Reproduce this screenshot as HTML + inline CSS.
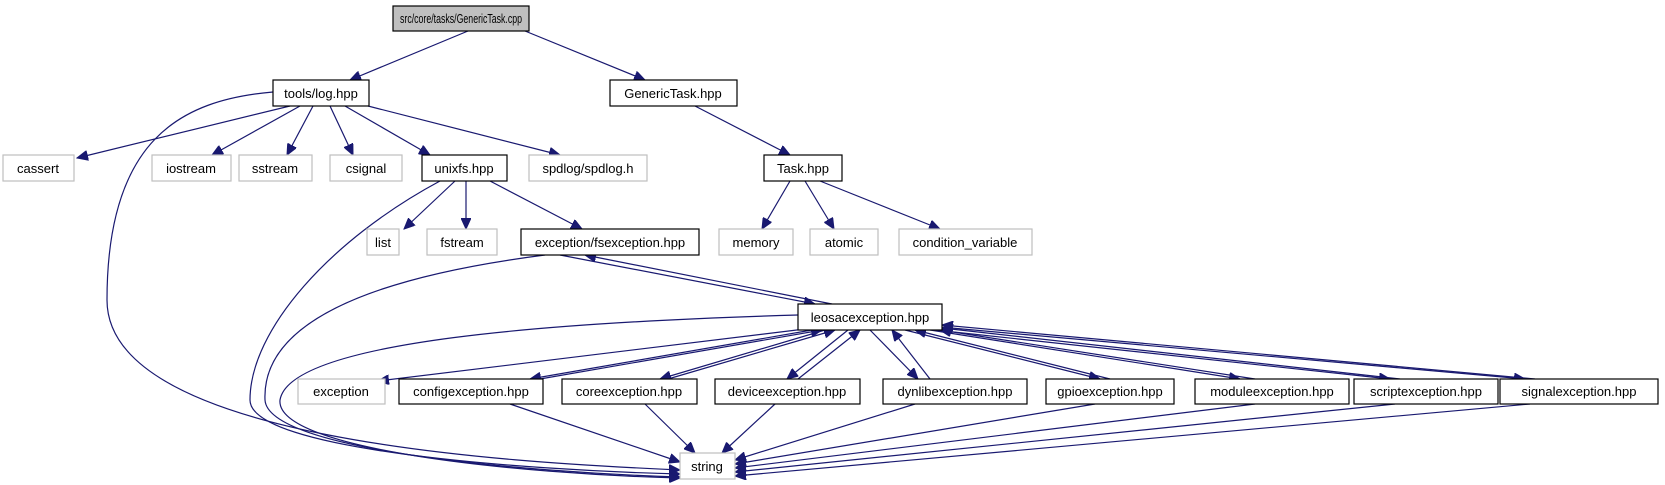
<!DOCTYPE html>
<html><head><meta charset="utf-8"><style>
html,body{margin:0;padding:0;background:#fff;}
svg{display:block;}
text{font-family:"Liberation Sans",Helvetica,sans-serif;font-size:13px;fill:#000;text-anchor:middle;}
.n{fill:#fff;stroke:#000;stroke-width:1.2;}
.g{fill:#fff;stroke:#bfbfbf;stroke-width:1.2;}
.e{fill:none;stroke:#191970;stroke-width:1.2;}
</style></head><body>
<svg width="1665" height="485" viewBox="0 0 1665 485" xmlns="http://www.w3.org/2000/svg">
<defs>
<marker id="a" markerUnits="userSpaceOnUse" markerWidth="12" markerHeight="10" refX="11" refY="5" orient="auto">
<path d="M0,0 L11,5 L0,10 Z" fill="#191970" stroke="#191970"/>
</marker>
</defs>
<g marker-end="url(#a)">
<path class="e" d="M468,31 L350,80"/>
<path class="e" d="M525,31 L645,80"/>
<path class="e" d="M290,106 L77,158"/>
<path class="e" d="M300,106 L212,155"/>
<path class="e" d="M313,106 L287,155"/>
<path class="e" d="M330,106 L353,155"/>
<path class="e" d="M345,106 L430,155"/>
<path class="e" d="M368,106 L560,155"/>
<path class="e" d="M273,92 C180,100 107,140 107,300 C107,440 500,462 680,470"/>
<path class="e" d="M695,106 L790,155"/>
<path class="e" d="M790,181 L762,229"/>
<path class="e" d="M805,181 L834,229"/>
<path class="e" d="M820,181 L940,229"/>
<path class="e" d="M455,181 L404,229"/>
<path class="e" d="M466,181 L466,229"/>
<path class="e" d="M490,181 L582,229"/>
<path class="e" d="M440,181 C330,240 250,330 250,400 C250,450 520,470 680,474"/>
<path class="e" d="M560,255 L815,304"/>
<path class="e" d="M832,304 L585,255"/>
<path class="e" d="M545,255 C350,280 262,330 265,400 C268,450 520,472 680,477"/>
<path class="e" d="M798,315 C560,322 290,340 280,400 C275,450 520,474 680,478"/>
<path class="e" d="M805,329 L378,381"/>
<path class="e" d="M812,330 L530,379"/>
<path class="e" d="M540,379 L822,330"/>
<path class="e" d="M825,330 L660,379"/>
<path class="e" d="M668,379 L835,330"/>
<path class="e" d="M848,330 L787,379"/>
<path class="e" d="M798,379 L860,330"/>
<path class="e" d="M870,330 L918,379"/>
<path class="e" d="M930,379 L892,330"/>
<path class="e" d="M905,330 L1100,379"/>
<path class="e" d="M1110,379 L915,330"/>
<path class="e" d="M930,330 L1240,379"/>
<path class="e" d="M1255,379 L940,330"/>
<path class="e" d="M935,330 L1390,379"/>
<path class="e" d="M1400,379 L942,328"/>
<path class="e" d="M940,327 L1525,379"/>
<path class="e" d="M1535,379 L942,325"/>
<path class="e" d="M510,404 L680,462"/>
<path class="e" d="M645,404 L695,453"/>
<path class="e" d="M775,404 L722,453"/>
<path class="e" d="M915,404 L735,460"/>
<path class="e" d="M1095,404 L735,464"/>
<path class="e" d="M1255,404 L735,468"/>
<path class="e" d="M1395,404 L735,472"/>
<path class="e" d="M1530,404 L735,476"/>
</g>
<rect x="393" y="6" width="136" height="25" fill="#bfbfbf" stroke="#000" stroke-width="1.2"/><text x="461" y="23" textLength="122" lengthAdjust="spacingAndGlyphs">src/core/tasks/GenericTask.cpp</text>
<rect class="n" x="273" y="80" width="96" height="26"/><text x="321" y="98">tools/log.hpp</text>
<rect class="n" x="610" y="80" width="127" height="26"/><text x="673" y="98">GenericTask.hpp</text>
<rect class="g" x="3" y="155" width="71" height="26"/><text x="38" y="173">cassert</text>
<rect class="g" x="152" y="155" width="79" height="26"/><text x="191" y="173">iostream</text>
<rect class="g" x="239" y="155" width="73" height="26"/><text x="275" y="173">sstream</text>
<rect class="g" x="330" y="155" width="72" height="26"/><text x="366" y="173">csignal</text>
<rect class="n" x="422" y="155" width="85" height="26"/><text x="464" y="173">unixfs.hpp</text>
<rect class="g" x="529" y="155" width="118" height="26"/><text x="588" y="173">spdlog/spdlog.h</text>
<rect class="n" x="764" y="155" width="78" height="26"/><text x="803" y="173">Task.hpp</text>
<rect class="g" x="367" y="229" width="32" height="26"/><text x="383" y="247">list</text>
<rect class="g" x="427" y="229" width="70" height="26"/><text x="462" y="247">fstream</text>
<rect class="n" x="521" y="229" width="178" height="26"/><text x="610" y="247">exception/fsexception.hpp</text>
<rect class="g" x="719" y="229" width="74" height="26"/><text x="756" y="247">memory</text>
<rect class="g" x="810" y="229" width="68" height="26"/><text x="844" y="247">atomic</text>
<rect class="g" x="899" y="229" width="133" height="26"/><text x="965" y="247">condition_variable</text>
<rect class="n" x="798" y="304" width="144" height="26"/><text x="870" y="322">leosacexception.hpp</text>
<rect class="g" x="298" y="379" width="87" height="25"/><text x="341" y="396">exception</text>
<rect class="n" x="399" y="379" width="144" height="25"/><text x="471" y="396">configexception.hpp</text>
<rect class="n" x="562" y="379" width="135" height="25"/><text x="629" y="396">coreexception.hpp</text>
<rect class="n" x="715" y="379" width="145" height="25"/><text x="787" y="396">deviceexception.hpp</text>
<rect class="n" x="883" y="379" width="144" height="25"/><text x="955" y="396">dynlibexception.hpp</text>
<rect class="n" x="1046" y="379" width="128" height="25"/><text x="1110" y="396">gpioexception.hpp</text>
<rect class="n" x="1195" y="379" width="154" height="25"/><text x="1272" y="396">moduleexception.hpp</text>
<rect class="n" x="1354" y="379" width="144" height="25"/><text x="1426" y="396">scriptexception.hpp</text>
<rect class="n" x="1500" y="379" width="158" height="25"/><text x="1579" y="396">signalexception.hpp</text>
<rect class="g" x="680" y="453" width="55" height="26"/><text x="707" y="471">string</text>
</svg>
</body></html>
